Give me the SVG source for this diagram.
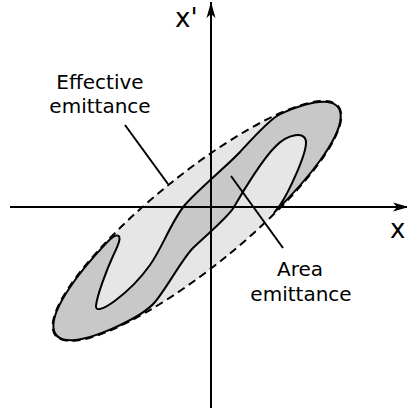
<svg xmlns="http://www.w3.org/2000/svg" width="407" height="411" viewBox="0 0 407 411">
  <style>
    .lbl { font-family: "DejaVu Sans", Verdana, sans-serif; font-size: 20px; fill: #000; text-anchor: middle; }
    .ax { font-family: "DejaVu Sans", Verdana, sans-serif; font-size: 26px; fill: #000; }
    .line { stroke: #000; stroke-width: 2; fill: none; }
  </style>
  <defs>
    <marker id="arr" markerUnits="userSpaceOnUse" markerWidth="18" markerHeight="12" refX="16" refY="5" orient="auto">
      <path d="M0,0.5 L16,5 L0,9.5 L4,5 Z" fill="#000"/>
    </marker>
  </defs>
  <rect width="407" height="411" fill="#fff"/>

  <g id="effective-emittance">
    <ellipse cx="197" cy="221" rx="182" ry="46" transform="rotate(-39 197 221)" fill="#e6e6e6" stroke="none"/>
  </g>

  <g id="area-emittance">
    <path fill="#c8c8c8" stroke="#000" stroke-width="2" stroke-linejoin="round"
      d="M280.6,113.8
         C269.6,118.7 248.1,143.2 240,152
         C227.8,165.2 195.3,191.9 184,206
         C171.5,221.6 161.6,248.7 150,265
         C129.7,293.5 95,318 96,306
         C96.8,296 106.7,269.7 113,256
         C116.4,248.7 124,234 116,235.5
         C113,236.1 110.1,239.2 108,241.4
         A181,45 -39 0 0 113.4,328.2
         C124.4,323.3 146,312.7 155,302
         C166.6,288.2 182.4,258.6 193,248
         C203,238 228.1,217.4 234,207
         C243.9,189.6 263.5,158.1 275,147
         C287,134 306.5,130 306,143
         C306,155 288.6,192.7 280,205
         L274.4,212.4
         A181,45 -39 0 0 280.6,113.8 Z"/>
  </g>

  <g id="effective-outline">
    <ellipse cx="197" cy="221" rx="182" ry="46" transform="rotate(-39 197 221)" fill="none" stroke="#000" stroke-width="2" stroke-dasharray="8,5"/>
  </g>

  <g id="axes">
    <line class="line" x1="211" y1="408" x2="211" y2="2" marker-end="url(#arr)"/>
    <line class="line" x1="10" y1="207" x2="409" y2="207" marker-end="url(#arr)"/>
    <text class="ax" x="175" y="27">x'</text>
    <text class="ax" x="390" y="238">x</text>
  </g>

  <g id="connectors">
    <line class="line" x1="125" y1="125" x2="168" y2="184"/>
    <line class="line" x1="231" y1="176" x2="283" y2="248"/>
  </g>

  <g id="label-effective">
    <text class="lbl" x="100" y="89">Effective</text>
    <text class="lbl" x="100" y="113">emittance</text>
  </g>
  <g id="label-area">
    <text class="lbl" x="300" y="276">Area</text>
    <text class="lbl" x="301" y="301">emittance</text>
  </g>
</svg>
